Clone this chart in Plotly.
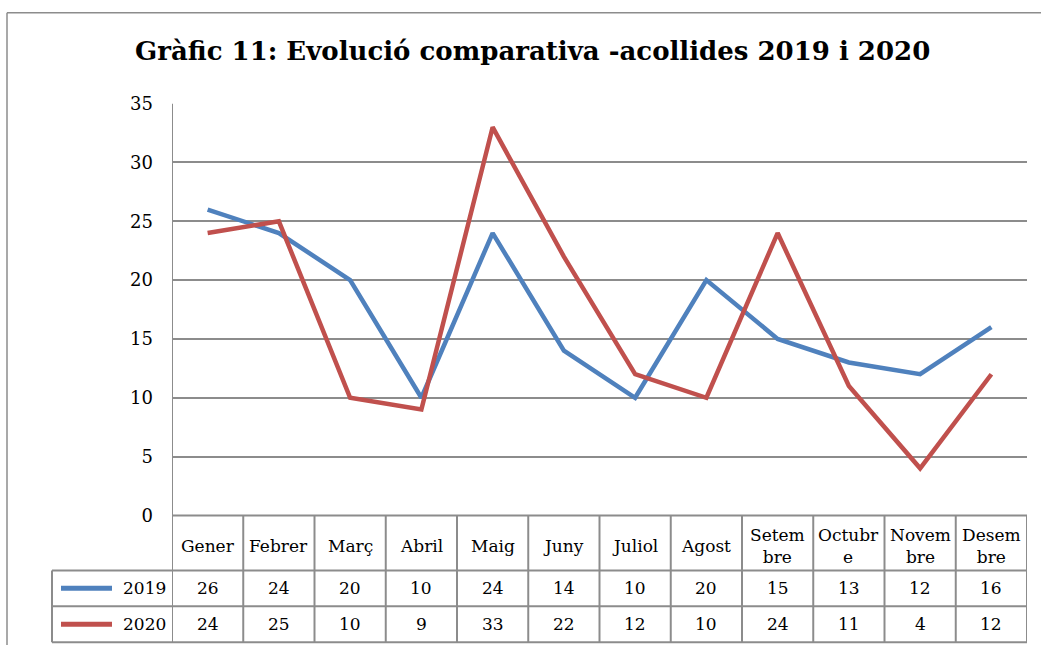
import plotly.graph_objects as go

months = ["Gener", "Febrer", "Març", "Abril", "Maig", "Juny", "Juliol", "Agost",
          "Setem<br>bre", "Octubr<br>e", "Novem<br>bre", "Desem<br>bre"]
series_names = ["2019", "2020"]
values_2019 = [26, 24, 20, 10, 24, 14, 10, 20, 15, 13, 12, 16]
values_2020 = [24, 25, 10, 9, 33, 22, 12, 10, 24, 11, 4, 12]
colors = ["#4F81BD", "#C0504D"]
y_ticks = [0, 5, 10, 15, 20, 25, 30, 35]

W, H = 1041, 645
FONT = "DejaVu Serif"
GRID = "#8c8c8c"

# measured vertical offset/scale of the paper area in the rendered page
OFF, SC = 10.3, 0.968

def px(x):
    return x / W

def py(y):
    return 1 - (y - OFF) / (SC * H)

plot_left, plot_right, plot_top, plot_bottom = 172, 1027, 103, 515
row_y = [515, 570, 606, 642]
legend_left = 52

fig = go.Figure()
xs = list(range(len(months)))
for name, vals, col in zip(series_names, [values_2019, values_2020], colors):
    fig.add_trace(go.Scatter(x=xs, y=vals, mode="lines", name=name,
                             line=dict(color=col, width=4.5), showlegend=False,
                             hoverinfo="skip"))

shapes = []
shapes.append(dict(type="line", xref="paper", yref="paper", x0=px(7), x1=px(7), y0=py(12), y1=py(660),
                   line=dict(color="#8c8c8c", width=1.5)))
shapes.append(dict(type="line", xref="paper", yref="paper", x0=px(7), x1=1, y0=py(12), y1=py(12),
                   line=dict(color="#8c8c8c", width=1.5)))
shapes.append(dict(type="line", xref="x", yref="paper", x0=-0.5, x1=-0.5, y0=py(plot_top), y1=py(row_y[-1]),
                   line=dict(color=GRID, width=2)))
for i in range(1, len(months) + 1):
    shapes.append(dict(type="line", xref="x", yref="paper", x0=i - 0.5, x1=i - 0.5,
                       y0=py(row_y[0]), y1=py(row_y[-1]), line=dict(color=GRID, width=2)))
shapes.append(dict(type="line", xref="x", yref="paper", x0=-0.5, x1=len(months) - 0.5,
                   y0=py(row_y[0]), y1=py(row_y[0]), line=dict(color=GRID, width=2)))
for ry in row_y[1:]:
    shapes.append(dict(type="line", xref="paper", yref="paper", x0=px(legend_left), x1=px(plot_right),
                       y0=py(ry), y1=py(ry), line=dict(color=GRID, width=2)))
shapes.append(dict(type="line", xref="paper", yref="paper", x0=px(legend_left), x1=px(legend_left),
                   y0=py(row_y[1]), y1=py(row_y[-1]), line=dict(color=GRID, width=2)))

annotations = []
annotations.append(dict(text="<b>Gràfic 11: Evolució comparativa -acollides 2019 i 2020</b>",
                        xref="paper", yref="paper", x=px(532), y=py(50), showarrow=False,
                        xanchor="center", yanchor="middle",
                        font=dict(family="DejaVu Serif", size=26, color="black")))
for i, m in enumerate(months):
    annotations.append(dict(text=m, xref="x", yref="paper", x=i, y=py(546),
                            showarrow=False, xanchor="center", yanchor="middle",
                            font=dict(family=FONT, size=17, color="black")))
for r, (name, vals, col) in enumerate(zip(series_names, [values_2019, values_2020], colors)):
    yc = (row_y[r + 1] + row_y[r + 2]) / 2
    for i, v in enumerate(vals):
        annotations.append(dict(text=str(v), xref="x", yref="paper", x=i, y=py(yc),
                                showarrow=False, xanchor="center", yanchor="middle",
                                font=dict(family=FONT, size=17, color="black")))
    shapes.append(dict(type="line", xref="paper", yref="paper", x0=px(61), x1=px(112),
                       y0=py(yc), y1=py(yc), line=dict(color=col, width=5)))
    annotations.append(dict(text=name, xref="paper", yref="paper", x=px(168), y=py(yc),
                            showarrow=False, xanchor="right", yanchor="middle",
                            font=dict(family=FONT, size=17, color="black")))

fig.update_layout(
    width=W, height=H,
    margin=dict(l=0, r=0, t=0, b=0),
    paper_bgcolor="white", plot_bgcolor="white",
    shapes=shapes, annotations=annotations,
    xaxis=dict(domain=[px(plot_left), px(plot_right)], range=[-0.5, len(months) - 0.5],
               showticklabels=False, showgrid=False, zeroline=False, ticks=""),
    yaxis=dict(domain=[py(plot_bottom), py(plot_top)], range=[0, 35], tickvals=y_ticks,
               showgrid=True, gridcolor=GRID, gridwidth=2, zeroline=False, ticks="",
               ticklabelstandoff=18,
               tickfont=dict(family=FONT, size=18, color="black")),
)

fig.write_html("out.html", config={"displayModeBar": False},
               post_script="document.body.style.margin='0';document.body.style.overflow='hidden';")
